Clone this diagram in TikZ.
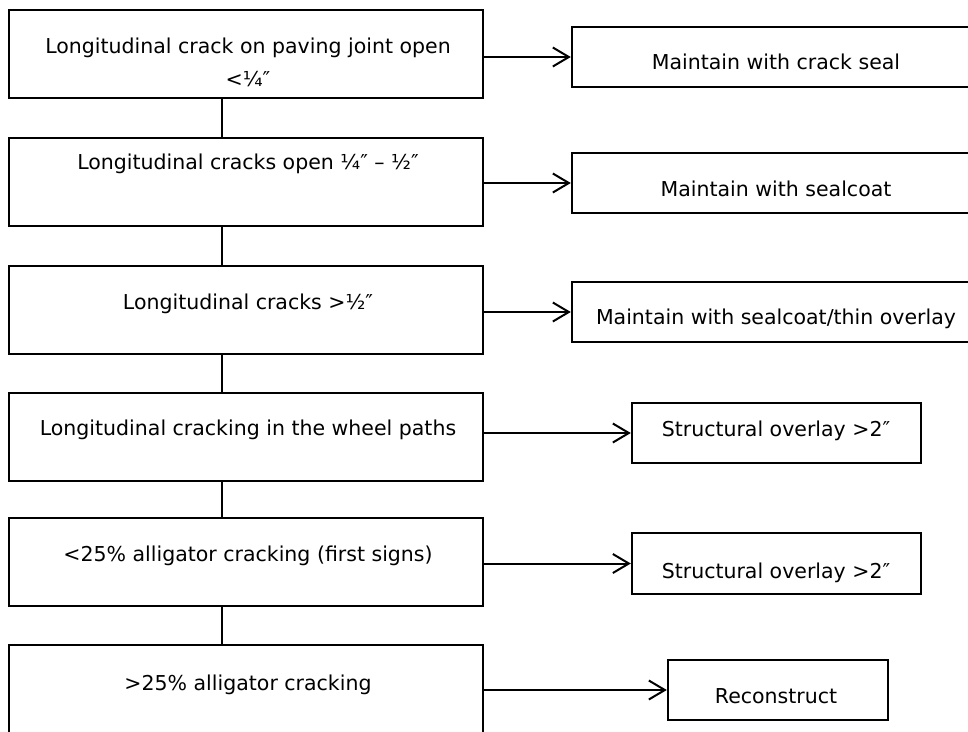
\documentclass[tikz,border=0pt]{standalone}
\usepackage{fontspec}
\setmainfont{DejaVu Sans}
\usetikzlibrary{arrows.meta}

\tikzset{
  box/.style={draw, line width=2.4pt, inner sep=0pt},
  lbox/.style={box, minimum width=474pt, minimum height=88pt},
  txt/.style={font=\fontsize{20.5}{33}\selectfont, anchor=base, inner sep=0pt, align=center},
  link/.style={line width=1.6pt},
  arr/.style={line width=2pt, -{Straight Barb[length=16pt, width=19pt, line width=2pt]}},
}

\begin{document}
\begin{tikzpicture}[x=1pt, y=-1pt]
    \useasboundingbox (0,0) rectangle (968,731);

    % draw crack boxes
    \node[lbox] (b1) at (246, 54) {};
    \node[lbox] (b2) at (246, 182) {};
    \node[lbox] (b3) at (246, 310) {};
    \node[lbox] (b4) at (246, 437) {};
    \node[lbox] (b5) at (246, 562) {};
    \node[lbox] (b6) at (246, 689) {};

    \node[txt] (t1) at (248, 86) {Longitudinal crack on paving joint open\\<¼″};
    \node[txt] (t2) at (248, 169) {Longitudinal cracks open ¼″ – ½″};
    \node[txt] (t3) at (248, 309) {Longitudinal cracks >½″};
    \node[txt] (t4) at (248, 435) {Longitudinal cracking in the wheel paths};
    \node[txt] (t5) at (248, 561) {<25\% alligator cracking (first signs)};
    \node[txt] (t6) at (248, 690) {>25\% alligator cracking};

    % draw treatment boxes
    \node[box, minimum width=400pt, minimum height=60pt] (r1) at (772, 57) {};
    \node[box, minimum width=400pt, minimum height=60pt] (r2) at (772, 183) {};
    \node[box, minimum width=400pt, minimum height=60pt] (r3) at (772, 312) {};
    \node[box, minimum width=289pt, minimum height=60pt] (r4) at (776.5, 433) {};
    \node[box, minimum width=289pt, minimum height=61pt] (r5) at (776.5, 563.5) {};
    \node[box, minimum width=220pt, minimum height=60pt] (r6) at (778, 690) {};

    \node[txt] (s1) at (776, 69) {Maintain with crack seal};
    \node[txt] (s2) at (776, 196) {Maintain with sealcoat};
    \node[txt] (s3) at (776, 324) {Maintain with sealcoat/thin overlay};
    \node[txt] (s4) at (776, 436) {Structural overlay >2″};
    \node[txt] (s5) at (776, 578) {Structural overlay >2″};
    \node[txt] (s6) at (776, 703) {Reconstruct};

    % draw links
    \coordinate (cx) at (222, 0);
    \draw[link] (b1.south -| cx) -- (b2.north -| cx);
    \draw[link] (b2.south -| cx) -- (b3.north -| cx);
    \draw[link] (b3.south -| cx) -- (b4.north -| cx);
    \draw[link] (b4.south -| cx) -- (b5.north -| cx);
    \draw[link] (b5.south -| cx) -- (b6.north -| cx);

    % draw arrows
    \draw[arr] (r1.west -| b1.east) -- (r1.west);
    \draw[arr] (r2.west -| b2.east) -- (r2.west);
    \draw[arr] (r3.west -| b3.east) -- (r3.west);
    \draw[arr] (r4.west -| b4.east) -- (r4.west);
    \draw[arr] (r5.west -| b5.east) -- (r5.west);
    \draw[arr] (r6.west -| b6.east) -- (r6.west);
\end{tikzpicture}
\end{document}
